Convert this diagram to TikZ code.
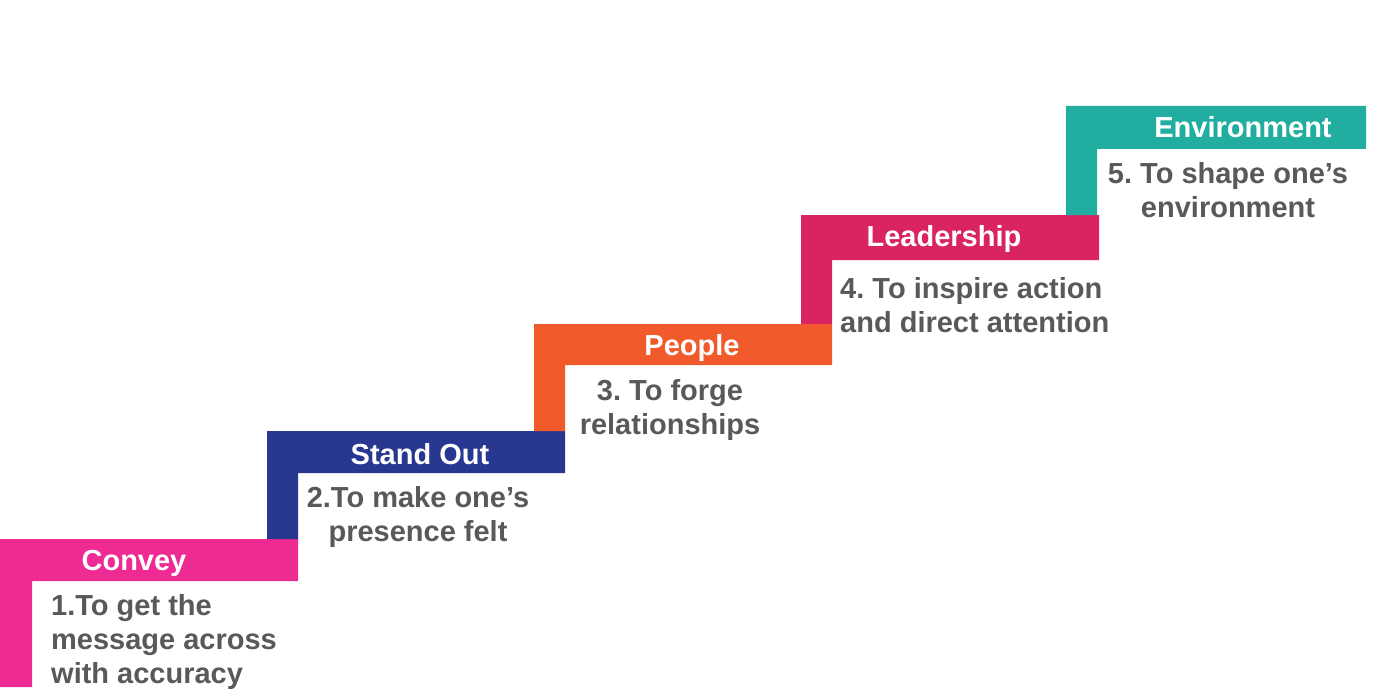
\documentclass[tikz,border=0pt]{standalone}
\usepackage{fontspec}
\setmainfont{Liberation Sans}
\definecolor{cConvey}{HTML}{EE2A93}
\definecolor{cStand}{HTML}{283891}
\definecolor{cPeople}{HTML}{F15A2B}
\definecolor{cLead}{HTML}{D92362}
\definecolor{cEnv}{HTML}{21AEA0}
\definecolor{txtgrey}{HTML}{595959}
\frenchspacing
\begin{document}
\begin{tikzpicture}[x=1pt,y=-1pt,
  lab/.style={font=\bfseries\fontsize{29}{34}\selectfont, text=white, inner sep=0pt, anchor=base},
  desc/.style={font=\bfseries\fontsize{29}{34}\selectfont, text=txtgrey, inner sep=0pt, anchor=base}]
\useasboundingbox[fill=white] (0,0) rectangle (1377,690);
% steps
\fill[cConvey] (0,539) -- (298,539) -- (298,581) -- (32,581) -- (32,687) -- (0,687) -- cycle;
\fill[cStand]  (267,431) -- (565,431) -- (565,473) -- (298,473) -- (298,539) -- (267,539) -- cycle;
\fill[cPeople] (534,324) -- (832,324) -- (832,365) -- (565,365) -- (565,431) -- (534,431) -- cycle;
\fill[cLead]   (801,215) -- (1099,215) -- (1099,260) -- (832,260) -- (832,324) -- (801,324) -- cycle;
\fill[cEnv]    (1066,106) -- (1366,106) -- (1366,149) -- (1097,149) -- (1097,215) -- (1066,215) -- cycle;
% labels
\node[lab] (l1) at (134,570) {Convey};
\node[lab] (l2) at (420,464) {Stand Out};
\node[lab] (l3) at (692,355) {People};
\node[lab] (l4) at (944,246) {Leadership};
\node[lab] (l5) at (1243,138) {Environment};
% descriptions (anchor at the baseline of the last line)
\node[desc, align=left, anchor=base west] (d1) at (51,683) {1.To get the\\message across\\with accuracy};
\node[desc, align=center] (d2) at (418,541) {2.To make one’s\\presence felt};
\node[desc, align=center] (d3) at (670,434) {3. To forge\\relationships};
\node[desc, align=left, anchor=base west] (d4) at (840,332) {4. To inspire action\\and direct attention};
\node[desc, align=center] (d5) at (1228,217) {5. To shape one’s\\environment};
\end{tikzpicture}
\end{document}
